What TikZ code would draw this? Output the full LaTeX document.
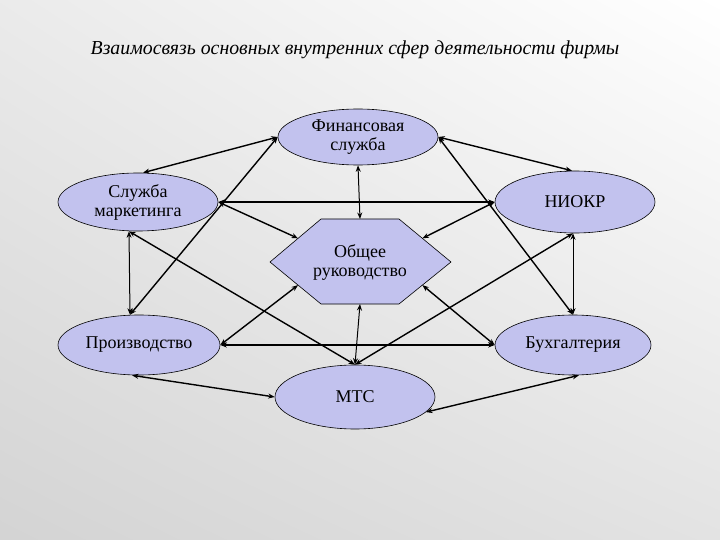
\documentclass[tikz,border=0pt]{standalone}
\usepackage{fontspec}
\setmainfont{Liberation Serif}
\usetikzlibrary{shapes.geometric,arrows.meta,calc,shadings}
\definecolor{nodefill}{RGB}{194,194,238}
\begin{document}
\begin{tikzpicture}[x=1pt,y=-1pt,
  oval/.style={ellipse,draw=black,line width=0.6pt,fill=nodefill,inner sep=0pt,
    align=center,font=\fontsize{18}{19}\selectfont},
  link/.style={line width=1.4pt,{Stealth[length=6.5pt,width=5pt]}-{Stealth[length=6.5pt,width=5pt]}},
  thick link/.style={link,line width=2.2pt},
  thin link/.style={link,line width=1pt}]
\useasboundingbox (0pt,0pt) rectangle (720pt,-540pt);
\shade[upper left=gray!16,upper right=white,lower left=gray!34,lower right=gray!22]
  (0pt,0pt) rectangle (720pt,-540pt);
\node (title) at (355,50) {\fontsize{19.8}{22}\selectfont\itshape Взаимосвязь основных внутренних сфер деятельности фирмы};
% nodes
\node[oval,minimum width=160,minimum height=56] (fin) at (358,137) {Финансовая\\служба};
\node[oval,minimum width=160,minimum height=58] (mkt) at (138,202) {Служба\\маркетинга};
\node[oval,minimum width=160,minimum height=62] (niokr) at (575,202) {НИОКР};
\node[oval,minimum width=162,minimum height=60] (prod) at (139,345) {Производство};
\node[oval,minimum width=156,minimum height=60] (buh) at (573,345) {Бухгалтерия};
\node[oval,minimum width=160,minimum height=64] (mtc) at (355,397) {МТС};
% hexagon
\coordinate (hL) at (270,262);
\coordinate (hTL) at (321,219);
\coordinate (hTR) at (399,219);
\coordinate (hR) at (451,262);
\coordinate (hBR) at (399,304);
\coordinate (hBL) at (321,304);
\draw[line width=0.6pt,fill=nodefill] (hL) -- (hTL) -- (hTR) -- (hR) -- (hBR) -- (hBL) -- cycle;
\node[align=center,font=\fontsize{18}{19}\selectfont] (hex) at (360,262) {Общее\\руководство};
\coordinate (hexT) at ($(hTL)!0.5!(hTR)$);
\coordinate (hexB) at ($(hBL)!0.5!(hBR)$);
\coordinate (hexUL) at ($(hL)!0.55!(hTL)$);
\coordinate (hexUR) at ($(hR)!0.55!(hTR)$);
\coordinate (hexLL) at ($(hL)!0.55!(hBL)$);
\coordinate (hexLR) at ($(hR)!0.55!(hBR)$);
% connectors
\draw[link] ([xshift=5pt]mkt.north) -- (fin.west);
\draw[link] ([xshift=-9pt]prod.north) -- (fin.west);
\draw[link] (fin.east) -- ([xshift=-3pt]niokr.north);
\draw[link] (fin.east) -- (buh.north);
\draw[thin link] (fin.south) -- (hexT);
\draw[thick link] (mkt.east) -- (niokr.west);
\draw[link] (mkt.east) -- (hexUL);
\draw[link] (niokr.west) -- (hexUR);
\draw[link] (prod.east) -- (hexLL);
\draw[link] (buh.west) -- (hexLR);
\draw[thin link] ([xshift=-9pt]mkt.south) -- ([xshift=-9pt]prod.north);
\draw[thin link] ([xshift=-2pt]niokr.south) -- (buh.north);
\draw[link] ([xshift=-9pt]mkt.south) -- (mtc.north);
\draw[link] ([xshift=-2pt]niokr.south) -- (mtc.north);
\draw[thin link] (hexB) -- (mtc.north);
\draw[thick link] (prod.east) -- (buh.west);
\draw[link] ([xshift=-7pt]prod.south) -- (mtc.west);
\draw[link] ([xshift=6pt]buh.south) -- (mtc.-12);
\end{tikzpicture}
\end{document}
